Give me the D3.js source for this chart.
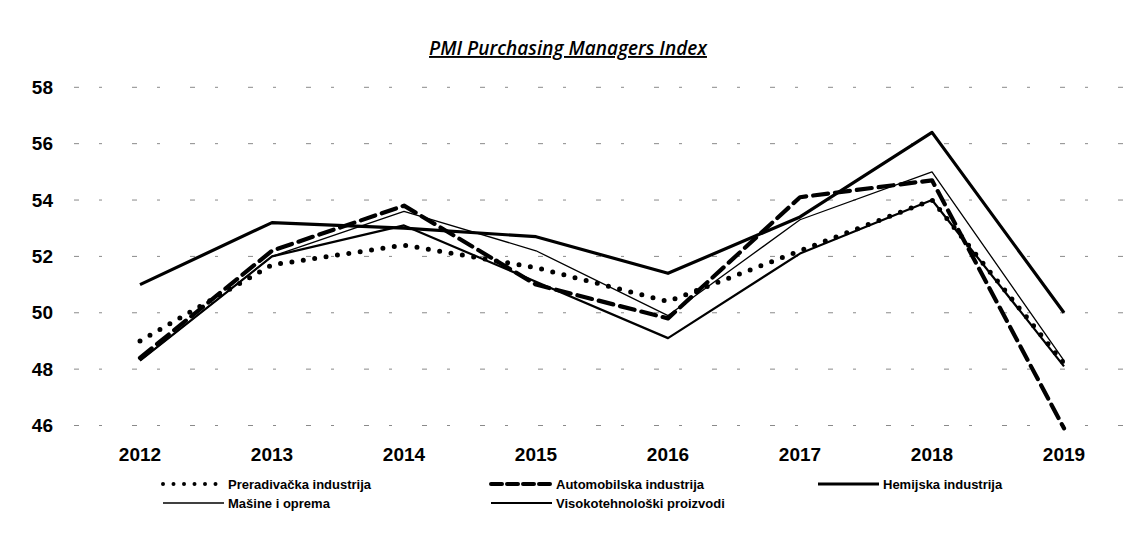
<!DOCTYPE html>
<html>
<head>
<meta charset="utf-8">
<script src="https://cdn.jsdelivr.net/npm/d3@7"></script>
<style>
  body { margin: 0; background: #fff; }
  text { font-family: "Liberation Sans", "Arial", sans-serif; font-weight: bold; }
</style>
</head>
<body>
<div class="chart"></div>
<script>
// chart data
var years = ["2012", "2013", "2014", "2015", "2016", "2017", "2018", "2019"];
var yTicks = [46, 48, 50, 52, 54, 56, 58];

var preradivacka = [49.0, 51.7, 52.4, 51.6, 50.4, 52.2, 54.0, 48.2];
var automobilska = [48.4, 52.2, 53.8, 51.0, 49.8, 54.1, 54.7, 45.9];
var hemijska = [51.0, 53.2, 53.0, 52.7, 51.4, 53.4, 56.4, 50.0];
var masine = [48.3, 52.0, 53.6, 52.2, 49.9, 53.3, 55.0, 48.3];
var visokotehnoloski = [48.3, 52.0, 53.1, 51.1, 49.1, 52.1, 54.0, 48.1];

var seriesNames = ["Preradivačka industrija", "Automobilska industrija", "Hemijska industrija",
  "Mašine i oprema", "Visokotehnološki proizvodi"];

var svgWidth = 1137;
var svgHeight = 537;

var plot = { left: 74, right: 1130, top: 87.3, bottom: 425.5 };

var svg = d3.select(".chart").append("svg")
  .attr("width", svgWidth)
  .attr("height", svgHeight);

// title
svg.append("text")
  .attr("x", 568)
  .attr("y", 55)
  .attr("text-anchor", "middle")
  .style("font-family", "'Open Sans', sans-serif")
  .style("font-size", "19px")
  .style("font-style", "italic")
  .style("font-weight", "600")
  .style("text-decoration", "underline")
  .text("PMI  Purchasing Managers Index");

// scales
var xScale = d3.scaleBand()
  .domain(years)
  .range([plot.left, plot.right]);

var yScale = d3.scaleLinear()
  .domain([46, 58])
  .range([plot.bottom, plot.top]);

// gridlines (faded in the scan, so drawn broken)
svg.append("g")
  .selectAll("line")
  .data(yTicks)
  .enter()
  .append("line")
  .attr("x1", plot.left)
  .attr("x2", plot.right)
  .attr("y1", d => yScale(d))
  .attr("y2", d => yScale(d))
  .attr("stroke", "#8a8a8a")
  .attr("stroke-width", 1)
  .attr("stroke-dasharray", "5,20,3,30");

// y axis (labels only)
var leftAxis = d3.axisLeft(yScale).tickValues(yTicks).tickSize(0).tickPadding(0);
svg.append("g")
  .attr("transform", `translate(53, 0)`)
  .call(leftAxis)
  .call(g => g.select(".domain").remove())
  .selectAll("text")
  .style("font-size", "19px")
  .attr("fill", "#000");

// x axis (labels only)
var bottomAxis = d3.axisBottom(xScale).tickSize(0).tickPadding(0);
svg.append("g")
  .attr("transform", `translate(0, 447)`)
  .call(bottomAxis)
  .call(g => g.select(".domain").remove())
  .selectAll("text")
  .style("font-size", "19px")
  .attr("fill", "#000");

// line styles per series
var styles = [
  { width: 5, dash: "0,11.5", cap: "round" },
  { width: 4.2, dash: "15,7", cap: "round" },
  { width: 3.2, dash: null, cap: "butt" },
  { width: 1.3, dash: null, cap: "butt" },
  { width: 2.2, dash: null, cap: "butt" }
];

var allSeries = [preradivacka, automobilska, hemijska, masine, visokotehnoloski];

var line = d3.line()
  .x((d, i) => xScale(years[i]) + xScale.bandwidth() / 2)
  .y(d => yScale(d));

// draw solid lines first, then dashed and dotted on top
var drawOrder = [2, 4, 3, 0, 1];
drawOrder.forEach(function(k) {
  svg.append("path")
    .datum(allSeries[k])
    .attr("d", line)
    .attr("fill", "none")
    .attr("stroke", "#000")
    .attr("stroke-width", styles[k].width)
    .attr("stroke-dasharray", styles[k].dash)
    .attr("stroke-linecap", styles[k].cap)
    .attr("stroke-linejoin", "round");
});

// legend
var legendPos = [
  { x: 160, y: 484 }, { x: 488, y: 484 }, { x: 815, y: 484 },
  { x: 160, y: 503 }, { x: 488, y: 503 }
];

var legendDash = ["0,10.5", "11,5", null, null, null];

var legend = svg.append("g");
seriesNames.forEach(function(name, k) {
  var p = legendPos[k];
  legend.append("line")
    .attr("x1", p.x + 3)
    .attr("x2", p.x + 64)
    .attr("y1", p.y)
    .attr("y2", p.y)
    .attr("stroke", "#000")
    .attr("stroke-width", Math.min(styles[k].width, 4))
    .attr("stroke-dasharray", legendDash[k])
    .attr("stroke-linecap", styles[k].cap);
  legend.append("text")
    .attr("x", p.x + 68)
    .attr("y", p.y)
    .attr("dy", "0.35em")
    .style("font-size", "13px")
    .text(name);
});
</script>
</body>
</html>
